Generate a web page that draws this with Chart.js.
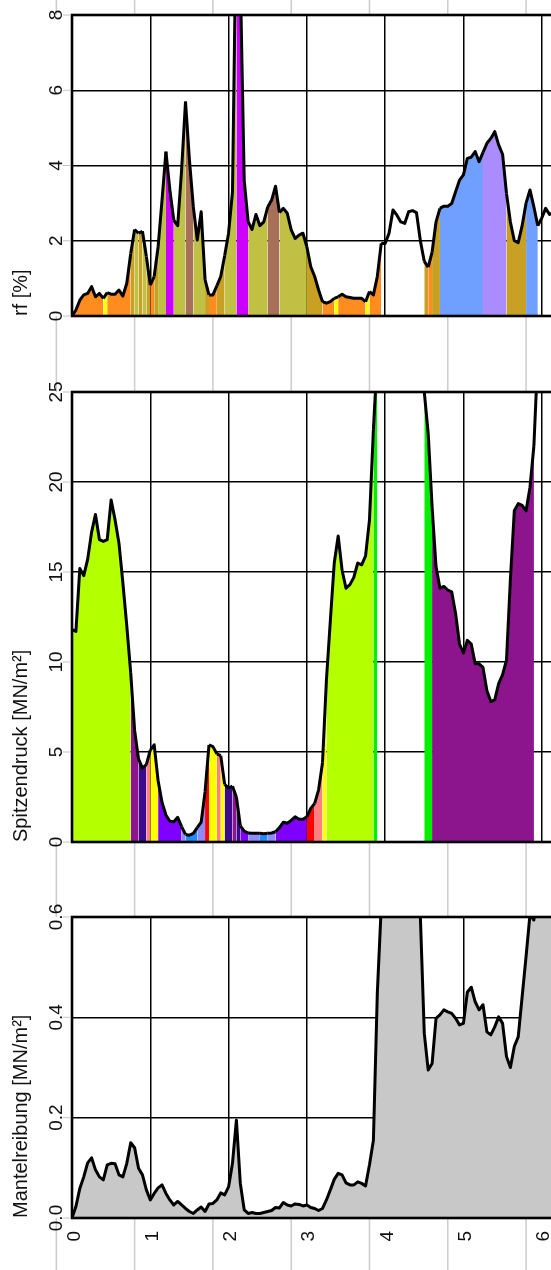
<!DOCTYPE html>
<html>
<head>
<meta charset="utf-8">
<script src="https://cdn.jsdelivr.net/npm/chart.js@4.4.0/dist/chart.umd.min.js"></script>
<style>
  html, body { margin: 0; padding: 0; background: #fff; overflow: hidden; }
  canvas { display: block; }
</style>
</head>
<body>
<canvas id="rf" width="630" height="354"></canvas>
<canvas id="qc" width="630" height="526"></canvas>
<canvas id="fs" width="630" height="390"></canvas>
<script>
// depth below ground [m], one sample every 5 cm
const depth = [
  0, 0.05, 0.1, 0.15, 0.2, 0.25, 0.3, 0.35, 0.4, 0.45,
  0.5, 0.55, 0.6, 0.65, 0.7, 0.75, 0.8, 0.85, 0.9, 0.95,
  1, 1.05, 1.1, 1.15, 1.2, 1.25, 1.3, 1.35, 1.4, 1.45,
  1.5, 1.55, 1.6, 1.65, 1.7, 1.75, 1.8, 1.85, 1.9, 1.95,
  2, 2.05, 2.1, 2.15, 2.2, 2.25, 2.3, 2.35, 2.4, 2.45,
  2.5, 2.55, 2.6, 2.65, 2.7, 2.75, 2.8, 2.85, 2.9, 2.95,
  3, 3.05, 3.1, 3.15, 3.2, 3.25, 3.3, 3.35, 3.4, 3.45,
  3.5, 3.55, 3.6, 3.65, 3.7, 3.75, 3.8, 3.85, 3.9, 3.95,
  4, 4.05, 4.1, 4.15, 4.2, 4.25, 4.3, 4.35, 4.4, 4.45,
  4.5, 4.55, 4.6, 4.65, 4.7, 4.75, 4.8, 4.85, 4.9, 4.95,
  5, 5.05, 5.1, 5.15, 5.2, 5.25, 5.3, 5.35, 5.4, 5.45,
  5.5, 5.55, 5.6, 5.65, 5.7, 5.75, 5.8, 5.85, 5.9, 5.95,
  6, 6.05, 6.1, 6.15
];

// Reibungsverhaeltnis rf [%]
const rfValues = [
  0, 0.16, 0.42, 0.56, 0.6, 0.78, 0.51, 0.6, 0.47, 0.62,
  0.58, 0.58, 0.69, 0.53, 0.87, 1.66, 2.3, 2.2, 2.25, 1.58,
  0.82, 1.05, 1.84, 3.08, 4.37, 3.35, 2.55, 2.4, 3.88, 5.7,
  4.15, 2.9, 2.02, 2.77, 0.96, 0.56, 0.56, 0.8, 1.05, 1.6,
  2.2, 3.3, 11, 9, 3.6, 2.51, 2.3, 2.7, 2.4, 2.5,
  2.9, 3.08, 3.45, 2.75, 2.86, 2.73, 2.29, 2.06, 2.15, 2.2,
  1.84, 1.31, 1.05, 0.69, 0.38, 0.34, 0.38, 0.47, 0.51, 0.58,
  0.51, 0.49, 0.47, 0.47, 0.47, 0.38, 0.65, 0.56, 1.05, 1.93,
  1.93, 2.2, 2.82, 2.68, 2.5, 2.46, 2.77, 2.8, 2.75, 2.0,
  1.45, 1.3, 1.7, 2.5, 2.86, 2.92, 2.92, 2.99, 3.3, 3.61,
  3.75, 4.19, 4.22, 4.37, 4.1, 4.35, 4.59, 4.72, 4.9, 4.55,
  4.3, 3.26, 2.5, 2.0, 1.95, 2.4, 3.0, 3.35, 2.9, 2.4,
  2.6, 2.86, 2.7, 2.75
];

// soil class per sample for the rf fill ("-" = not classified)
const rfClass = [
  "OOOOOOOO", "Y", "OOOOOO", "GLGLGOGLL", "MM", "LLL", "BB", "LLL", "G", "OO",
  "GG", "LLL", "MMM", "LLLLL", "BBB", "LLLLLLL", "GGGG", "OOO", "Y", "OOOOOOO",
  "Y", "OOO", "-----------", "GOGG", "UUUUUUUUUUU", "VVVVVV", "GGGGG", "UUU", "-----"
].join("").split("");

// Spitzendruck qc [MN/m2]
const qcValues = [
  11.8, 11.7, 15.2, 14.8, 15.7, 17.2, 18.2, 16.8, 16.7, 16.8,
  19.0, 17.9, 16.6, 14.4, 12.0, 9.4, 6.2, 4.6, 4.1, 4.3,
  5.1, 5.4, 3.4, 2.2, 1.5, 1.15, 1.13, 1.37, 0.85, 0.42,
  0.38, 0.48, 0.8, 1.1, 2.8, 5.4, 5.3, 4.9, 4.8, 3.2,
  3.0, 3.1, 2.5, 0.9, 0.6, 0.5, 0.48, 0.48, 0.48, 0.46,
  0.48, 0.5, 0.57, 0.8, 1.1, 1.04, 1.2, 1.4, 1.26, 1.26,
  1.4, 1.87, 2.15, 2.9, 4.4, 9.0, 12.3, 15.5, 17.0, 15.1,
  14.1, 14.3, 14.7, 15.5, 15.4, 15.9, 17.9, 22.9, 27, 31,
  34, 36, 37, 38, 38, 37, 36, 34, 31, 28,
  25, 22.7, 18.6, 15.3, 14.1, 14.2, 14.0, 13.9, 12.7, 11.0,
  10.5, 11.2, 11.0, 9.9, 9.9, 9.7, 8.4, 7.8, 7.9, 8.8,
  9.3, 10.1, 14.6, 18.4, 18.8, 18.7, 18.4, 19.7, 22.0, 27,
  31, 34, 36, 37
];

const qcClass = [
  "AAAAAAAAAAAAAAA", "PP", "II", "K", "YY", "VVVVVV", "L", "UUU", "LL", "R",
  "YY", "K", "Y", "II", "P", "I", "VV", "LLL", "UU", "LL", "VVVVVVVV", "RR",
  "KK", "Y", "AAAAAAAAAAAA", "G", "------------", "GG",
  "PPPPPPPPPPPPPPPPPPPPPPPPPP", "------"
].join("").split("");

// Mantelreibung fs [MN/m2]
const fsValues = [
  0, 0.023, 0.059, 0.082, 0.11, 0.12, 0.096, 0.082, 0.076, 0.106,
  0.109, 0.108, 0.086, 0.082, 0.109, 0.15, 0.14, 0.099, 0.086, 0.056,
  0.036, 0.049, 0.06, 0.066, 0.049, 0.036, 0.026, 0.033, 0.026, 0.019,
  0.013, 0.009, 0.016, 0.022, 0.013, 0.028, 0.029, 0.036, 0.05, 0.046,
  0.062, 0.109, 0.195, 0.069, 0.016, 0.009, 0.011, 0.009, 0.009, 0.011,
  0.013, 0.015, 0.021, 0.02, 0.031, 0.026, 0.024, 0.028, 0.027, 0.024,
  0.026, 0.021, 0.019, 0.015, 0.019, 0.036, 0.056, 0.077, 0.089, 0.086,
  0.07, 0.066, 0.066, 0.072, 0.069, 0.064, 0.106, 0.155, 0.448, 0.62,
  0.7, 0.74, 0.76, 0.77, 0.77, 0.76, 0.75, 0.73, 0.68, 0.6,
  0.368, 0.295, 0.308, 0.398, 0.405, 0.415, 0.411, 0.408, 0.398, 0.385,
  0.388, 0.45, 0.46, 0.431, 0.415, 0.425, 0.371, 0.365, 0.381, 0.401,
  0.388, 0.322, 0.3, 0.342, 0.361, 0.441, 0.521, 0.605, 0.594, 0.65,
  0.7, 0.72, 0.75, 0.75
];

// tick labels
const depthTicks = [0, 1, 2, 3, 4, 5, 6, 7];
const rfTicks = [0, 2, 4, 6, 8];
const qcTicks = [0, 5, 10, 15, 20, 25];
const fsTicks = [0, 0.2, 0.4, 0.6];

const rfColors = {
  O: "#ff8c1e", Y: "#ffff00", L: "#c0c044", G: "#c8a024",
  M: "#cc00ff", B: "#a87058", U: "#70a0ff", V: "#aa8cff"
};
const qcColors = {
  A: "#b4ff00", P: "#8c148c", I: "#3c0a8c", K: "#ff8080", Y: "#ffff00",
  V: "#8000ff", L: "#8c8cff", U: "#1e8cff", R: "#ff0000", G: "#00f000"
};
const NONE = "rgba(0,0,0,0)";

const TICK_FONT = '19px "Liberation Sans", Arial, sans-serif';
const TITLE_FONT = '20px "Liberation Sans", Arial, sans-serif';

function rotText(ctx, text, px, py, align) {
  ctx.save();
  ctx.translate(px, py);
  ctx.rotate(-Math.PI / 2);
  ctx.textAlign = align;
  ctx.textBaseline = "alphabetic";
  ctx.fillText(text, 0, 0);
  ctx.restore();
}

// background lines, frame and all rotated texts
const decor = {
  id: "decor",
  beforeDraw(chart) {
    const { ctx, chartArea: a, scales: { x } } = chart;
    ctx.save();
    ctx.fillStyle = "#fff";
    ctx.fillRect(0, 0, chart.width, chart.height);
    ctx.strokeStyle = "#cccccc";
    ctx.lineWidth = 1.5;
    depthTicks.forEach(d => {
      const px = x.getPixelForValue(d - 0.2);
      ctx.beginPath();
      ctx.moveTo(px, 0);
      ctx.lineTo(px, chart.height);
      ctx.stroke();
    });
    ctx.fillStyle = "#fff";
    ctx.fillRect(0, a.top, chart.width, a.bottom - a.top);
    ctx.restore();
  },
  afterDraw(chart, args, opts) {
    const { ctx, chartArea: a, scales: { x, y } } = chart;
    ctx.save();
    ctx.strokeStyle = "#000";
    ctx.lineWidth = 2.6;
    ctx.strokeRect(a.left, a.top, a.right - a.left, a.bottom - a.top);

    ctx.font = TICK_FONT;
    ctx.fillStyle = "#111";
    opts.ticks.forEach(v => {
      const py = y.getPixelForValue(v);
      ctx.strokeStyle = "#c4c4c4";
      ctx.lineWidth = 1;
      ctx.beginPath();
      ctx.moveTo(63, py);
      ctx.lineTo(a.left - 1, py);
      ctx.stroke();
      rotText(ctx, v.toFixed(opts.decimals), 62, py, "center");
    });

    if (opts.depthLabels) {
      depthTicks.forEach(d => {
        rotText(ctx, String(d), x.getPixelForValue(d) + 7.5, a.bottom + 13, "right");
      });
    }

    ctx.font = TITLE_FONT;
    rotText(ctx, opts.title, 27, a.bottom, "left");
    ctx.restore();
  }
};

function makePanel(id, values, colors, ymax, ticks, decimals, title, padding, depthLabels) {
  const points = depth.map((d, i) => ({ x: d, y: values[i] }));

  return new Chart(document.getElementById(id), {
    type: "line",
    data: {
      datasets: [{
        data: points,
        borderColor: "#000",
        borderWidth: 3,
        borderJoinStyle: "round",
        pointRadius: 0,
        tension: 0,
        fill: "origin",
        backgroundColor: NONE,
        // each stretch is filled with the colour of its soil class
        segment: { backgroundColor: c => colors[c.p0DataIndex] || NONE },
        clip: 0
      }]
    },
    options: {
      responsive: false,
      animation: false,
      events: [],
      layout: { padding: padding },
      plugins: {
        legend: { display: false },
        tooltip: { enabled: false },
        decor: { ticks: ticks, decimals: decimals, title: title, depthLabels: depthLabels }
      },
      scales: {
        x: {
          type: "linear",
          min: 0,
          max: 7,
          offset: false,
          z: 1,
          afterBuildTicks: s => { s.ticks = depthTicks.map(v => ({ value: v })); },
          afterFit: s => { s.height = 0; },
          ticks: { display: false },
          grid: { color: "#000", lineWidth: 1.5, drawTicks: false },
          border: { display: false }
        },
        y: {
          min: 0,
          max: ymax,
          z: 1,
          afterBuildTicks: s => { s.ticks = ticks.map(v => ({ value: v })); },
          afterFit: s => { s.width = 72; },
          ticks: { display: false },
          grid: { color: "#000", lineWidth: 1.5, drawTicks: false },
          border: { display: false }
        }
      }
    },
    plugins: [decor]
  });
}

makePanel("rf", rfValues, rfClass.map(c => rfColors[c] || null), 8, rfTicks, 0,
  "rf [%]", { top: 15, bottom: 38, left: 0, right: 10 }, false);

makePanel("qc", qcValues, qcClass.map(c => qcColors[c] || null), 25, qcTicks, 0,
  "Spitzendruck [MN/m\u00b2]", { top: 38, bottom: 38, left: 0, right: 10 }, false);

makePanel("fs", fsValues, fsValues.map(() => "#c8c8c8"), 0.6, fsTicks, 1,
  "Mantelreibung [MN/m\u00b2]", { top: 37, bottom: 52, left: 0, right: 10 }, true);
</script>
</body>
</html>
